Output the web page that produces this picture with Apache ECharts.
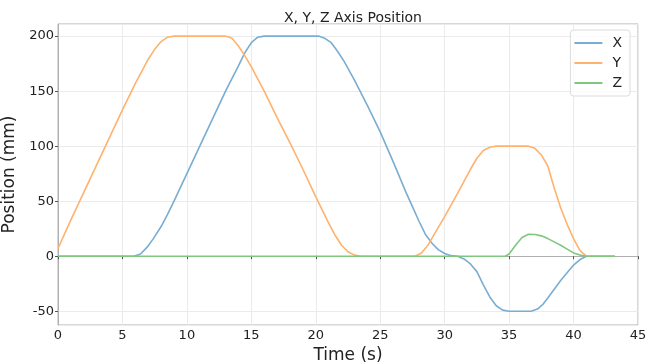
<!DOCTYPE html>
<html>
<head>
<meta charset="utf-8">
<script src="https://cdn.jsdelivr.net/npm/echarts@6/dist/echarts.min.js"></script>
<style>
  html, body { margin: 0; padding: 0; background: #fff; }
  #chart { width: 646px; height: 363px; }
</style>
</head>
<body>
<div id="chart"></div>
<script>
// X axis position (time in s, position in mm)
var xTime = [0, 5.9, 6.4, 6.9, 7.4, 8, 8.5, 9, 10, 11, 12, 13, 14, 14.5, 15, 15.5, 16,
    20.2, 20.7, 21.2, 21.7, 22.2, 23, 24, 25, 26, 27, 27.5, 28, 28.5, 29, 29.5, 30, 30.5, 31,
    31.5, 32, 32.5, 33, 33.5, 34, 34.5, 35, 36.7, 37.2, 37.6, 38, 38.5, 39, 39.5, 40, 40.5, 41, 43.2];
var xPos = [0, 0, 2, 8, 16, 27, 38, 50, 75, 100, 125, 150, 173, 185, 194, 199, 200,
    200, 198, 194, 186, 177, 160, 137, 113, 86, 58, 45, 32, 20, 12, 6, 2.5, 0.5, 0,
    -2.5, -7, -14, -26, -37, -45, -49, -50, -50, -48, -44, -38, -30, -22, -15, -8, -3, 0, 0];

// Y axis position
var yTime = [0, 1, 2, 3, 4, 5, 6, 6.5, 7, 7.5, 8, 8.5, 9,
    13, 13.5, 14, 14.5, 15, 16, 17, 18, 19, 20, 21, 21.5, 22, 22.5, 23, 23.5,
    27.7, 28.2, 28.7, 29.2, 30, 31, 32, 32.5, 33, 33.5, 34,
    36.5, 37, 37.5, 38, 38.5, 39, 39.5, 40, 40.5, 41, 43.2];
var yPos = [7, 33, 58, 83, 108, 133, 157, 168, 179, 188, 195, 199, 200,
    200, 198, 191, 182, 172, 150, 126, 103, 79, 54, 30, 19, 10, 4, 1, 0,
    0, 3, 10, 20, 36, 57, 79, 89, 96, 99, 100,
    100, 98, 92, 82, 62, 44, 29, 16, 5, 0, 0];

// Z axis position
var zTime = [0, 34.7, 35, 35.5, 36, 36.5, 37, 37.5, 38, 38.5, 39, 39.5, 40, 40.5, 41, 43.2];
var zPos = [0, 0, 2, 10, 17, 20, 19.7, 18.5, 16, 13, 10, 6.5, 3, 1, 0, 0];

var seriesNames = ['X', 'Y', 'Z'];
var seriesColors = ['#79add2', '#ffb26e', '#80c680'];

function pairs(t, v) {
    var out = [];
    for (var i = 0; i < t.length; i++) out.push([t[i], v[i]]);
    return out;
}

var lines = [pairs(xTime, xPos), pairs(yTime, yPos), pairs(zTime, zPos)];

var chart = echarts.init(document.getElementById('chart'), null, {renderer: 'canvas'});
var font = 'DejaVu Sans';

var series = [];
for (var i = 0; i < lines.length; i++) {
    series.push({
        name: seriesNames[i],
        type: 'line',
        data: lines[i],
        showSymbol: false,
        lineStyle: {width: 1.6, color: seriesColors[i]},
        itemStyle: {color: seriesColors[i]}
    });
}

var option = {
    animation: false,
    backgroundColor: '#fff',
    title: {
        text: 'X, Y, Z Axis Position',
        left: 348,
        top: 6,
        textAlign: 'center',
        textStyle: {fontFamily: font, fontSize: 14, fontWeight: 'normal', color: '#222'}
    },
    legend: {
        data: seriesNames,
        orient: 'vertical',
        right: 16,
        top: 30,
        icon: 'rect',
        itemWidth: 28,
        itemHeight: 2,
        itemGap: 6,
        padding: [6, 8, 6, 4],
        borderColor: '#dcdcdc',
        borderWidth: 1,
        borderRadius: 3,
        backgroundColor: 'rgba(255,255,255,0.8)',
        textStyle: {fontFamily: font, fontSize: 14, color: '#222', padding: [0, 0, 0, 5]}
    },
    grid: {
        left: 58,
        right: 8,
        top: 24,
        bottom: 38,
        outerBoundsMode: 'none',
        containLabel: false,
        show: true,
        borderColor: '#b0b0b0',
        borderWidth: 1
    },
    xAxis: {
        type: 'value',
        min: 0,
        max: 45,
        interval: 5,
        name: 'Time (s)',
        nameLocation: 'middle',
        nameGap: 21,
        nameTextStyle: {fontFamily: font, fontSize: 17, color: '#222'},
        axisLine: {show: true, lineStyle: {color: '#b0b0b0'}},
        axisTick: {show: true, length: 3, lineStyle: {color: '#555'}},
        axisLabel: {fontFamily: font, fontSize: 13, color: '#222', margin: 4},
        splitLine: {show: true, lineStyle: {color: '#ebebeb'}}
    },
    yAxis: {
        type: 'value',
        min: -62.5,
        max: 211,
        splitNumber: 5,
        name: 'Position (mm)',
        nameLocation: 'middle',
        nameGap: 28,
        nameTextStyle: {fontFamily: font, fontSize: 17, color: '#222'},
        axisLine: {show: true, lineStyle: {color: '#b0b0b0'}},
        axisTick: {show: true, length: 3, lineStyle: {color: '#555'}},
        axisLabel: {fontFamily: font, fontSize: 13, color: '#222', margin: 4,
            showMinLabel: false, showMaxLabel: false},
        splitLine: {show: true, lineStyle: {color: '#ebebeb'}}
    },
    series: series
};

chart.setOption(option);
</script>
</body>
</html>
